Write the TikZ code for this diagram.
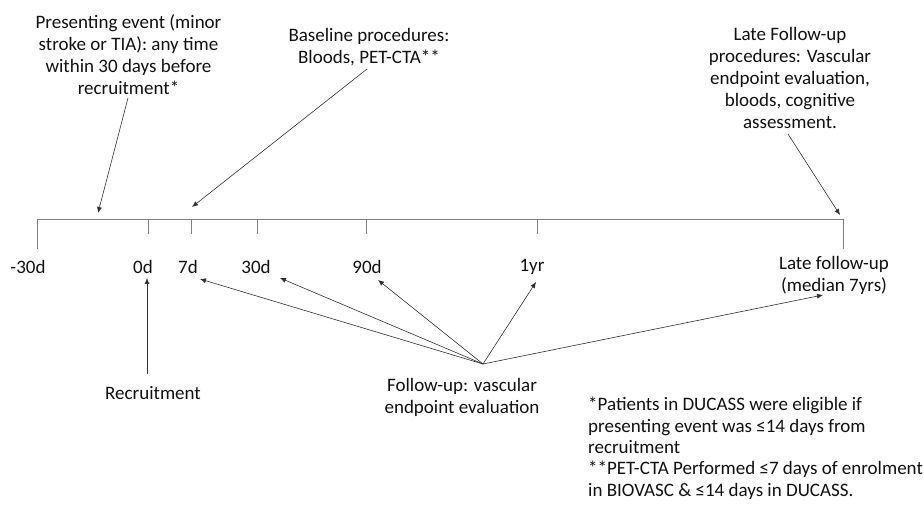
\documentclass[tikz,border=0pt]{standalone}
\usepackage{fontspec}
\setmainfont{Carlito}
\usetikzlibrary{arrows.meta}
\definecolor{axis}{HTML}{808080}
\definecolor{arr}{HTML}{303030}
\definecolor{txt}{HTML}{111111}
\begin{document}
\begin{tikzpicture}[x=1pt,y=-1pt,
  lbl/.style={inner sep=0pt,text=txt,font=\fontsize{19}{22}\selectfont,align=center},
  foot/.style={inner sep=0pt,text=txt,font=\fontsize{19}{21.4}\selectfont,align=left},
  axisline/.style={draw=axis,line width=0.8pt},
  pointer/.style={draw=arr,line width=0.6pt,-{Latex[length=6pt,width=5pt]}}]
\useasboundingbox (0,0) rectangle (924,518);
% timeline
\coordinate (tA) at (37,219);
\coordinate (tB) at (843,219);
\draw[axisline] (37,249) -- (tA) -- (tB) -- (843,249);
\foreach \x/\n in {148/t0,191/t7,257/t30,366/t90,537/t1y}{
  \coordinate (\n) at (\x,219);
  \draw[axisline] (\n) -- (\x,234);
}
% tick labels
\node[lbl] (lm30) at (28,267) {-30d};
\node[lbl] (l0) at (143,267) {0d};
\node[lbl] (l7) at (188,267) {7d};
\node[lbl] (l30) at (256,267) {30d};
\node[lbl] (l90) at (367,267) {90d};
\node[lbl] (l1y) at (532,267) {1yr};
\node[lbl] (llate) at (834,275) {Late follow-up\\(median 7yrs)};
% top labels
\node[lbl] (pres) at (128.5,55) {Presenting event (minor\\stroke or TIA): any time\\within 30 days before\\recruitment*};
\node[lbl] (base) at (369,47.5) {Baseline procedures:\\Bloods, PET-CTA**};
\node[lbl] (latep) at (790,78) {Late Follow-up\\procedures: Vascular\\endpoint evaluation,\\bloods, cognitive\\assessment.};
% bottom labels
\node[lbl] (recr) at (153,393) {Recruitment};
\node[lbl] (fu) at (462,397) {Follow-up: vascular\\endpoint evaluation};
\node[foot,anchor=north west] (note) at (588,397) {*Patients in DUCASS were eligible if\\presenting event was ≤14 days from\\recruitment\\**PET-CTA Performed ≤7 days of enrolment\\in BIOVASC \& ≤14 days in DUCASS.};
% arrow anchors
\coordinate (presS) at (128,98);
\coordinate (presT) at (98,213);
\coordinate (baseS) at (367,69);
\coordinate (baseT) at (192,207);
\coordinate (latepS) at (788,134);
\coordinate (latepT) at (840,215);
\coordinate (recrS) at (147,374);
\coordinate (recrT) at (147,278);
\coordinate (hub) at (483,364);
\coordinate (h7) at (200,279);
\coordinate (h30) at (280,278);
\coordinate (h90) at (378,280);
\coordinate (h1y) at (536,282);
\coordinate (hlate) at (823,295);
\draw[pointer] (presS) -- (presT);
\draw[pointer] (baseS) -- (baseT);
\draw[pointer] (latepS) -- (latepT);
\draw[pointer] (recrS) -- (recrT);
\foreach \t in {h7,h30,h90,h1y,hlate} \draw[pointer] (hub) -- (\t);
\end{tikzpicture}
\end{document}
